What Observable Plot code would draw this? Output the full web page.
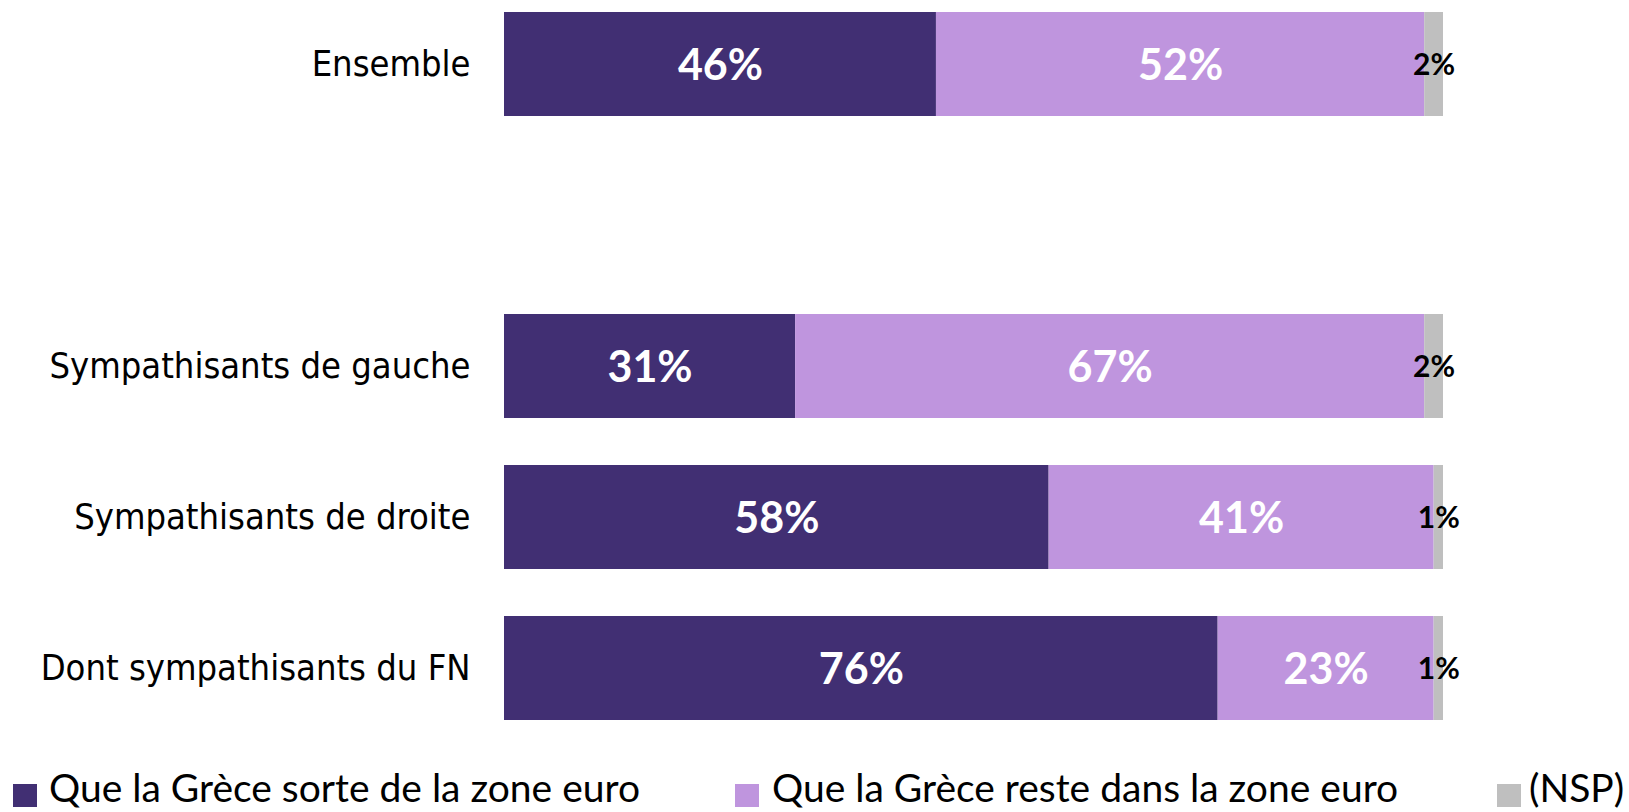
<!DOCTYPE html>
<html>
<head>
<meta charset="utf-8">
<script src="https://cdn.jsdelivr.net/npm/d3@7"></script>
<script src="https://cdn.jsdelivr.net/npm/@observablehq/plot@0.6"></script>
<style>
  html, body { margin: 0; padding: 0; background: #fff; }
  #wrap { position: relative; width: 1629px; height: 812px; overflow: hidden; }
  .leg { position: absolute; top: 767px; line-height: 40px;
         font-family: Lato, "Open Sans", sans-serif; font-size: 39px; color: #000; white-space: nowrap; }
  .sw { position: absolute; top: 784px; width: 24px; height: 23px; }
</style>
</head>
<body>
<div id="wrap"></div>
<script>
const categories = ["Ensemble", "", "Sympathisants de gauche", "Sympathisants de droite", "Dont sympathisants du FN"];
const groups = ["Ensemble", "Sympathisants de gauche", "Sympathisants de droite", "Dont sympathisants du FN"];
const series = ["Que la Grèce sorte de la zone euro", "Que la Grèce reste dans la zone euro", "(NSP)"];
const sortir = [46, 31, 58, 76];
const rester = [52, 67, 41, 23];
const nsp = [2, 2, 1, 1];
const colors = ["#412f73", "#bf95de", "#bfbfbf"];

const values = [sortir, rester, nsp];
const data = [];
groups.forEach((g, i) => {
  series.forEach((s, j) => data.push({cat: g, series: s, value: values[j][i]}));
});

const wrap = document.getElementById("wrap");
const chart = Plot.plot({
  width: 1629,
  height: 766,
  marginLeft: 504,
  marginRight: 186,
  marginTop: 0,
  marginBottom: 0,
  x: {domain: [0, 100], axis: null},
  y: {domain: categories, range: [12, 721], paddingInner: 0.311, paddingOuter: 0, label: null, axis: null},
  color: {domain: series, range: colors},
  marks: [
    Plot.barX(data, Plot.stackX({x: "value", y: "cat", fill: "series"})),
    Plot.text(data, Plot.stackX({
      x: "value", y: "cat", z: "series",
      text: d => d.series !== series[2] ? d.value + "%" : "", fill: "white",
      fontSize: 43, fontWeight: "bold", fontFamily: "Lato, sans-serif", dy: 2
    })),
    Plot.text(data, Plot.stackX({
      x: "value", y: "cat", z: "series",
      text: d => d.series === series[2] ? d.value + "%" : "", fill: "black",
      fontSize: 30, fontWeight: "bold", fontFamily: "Lato, sans-serif", dy: 1
    })),
    Plot.axisY({tickSize: 0, tickPadding: 34, fontSize: 36, fontFamily: "'DejaVu Sans Condensed', 'DejaVu Sans', sans-serif", label: null, textAnchor: "end"})
  ]
});
chart.style.position = "absolute";
chart.style.left = "0";
chart.style.top = "0";
wrap.appendChild(chart);

const legPos = [{sw: 13, tx: 49}, {sw: 735, tx: 772}, {sw: 1497, tx: 1529}];
series.forEach((s, i) => {
  const sw = document.createElement("div");
  sw.className = "sw";
  sw.style.left = legPos[i].sw + "px";
  sw.style.background = colors[i];
  wrap.appendChild(sw);
  const t = document.createElement("div");
  t.className = "leg";
  t.style.left = legPos[i].tx + "px";
  t.textContent = s;
  wrap.appendChild(t);
});
</script>
</body>
</html>
